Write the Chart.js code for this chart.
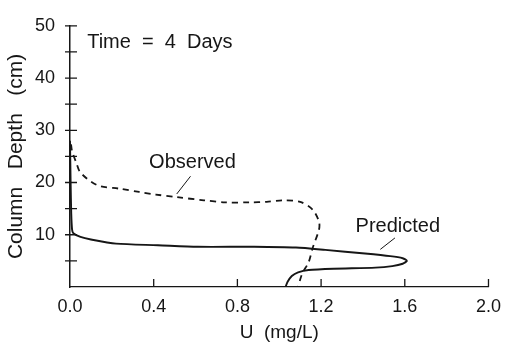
<!DOCTYPE html>
<html>
<head>
<meta charset="utf-8">
<script src="https://cdn.jsdelivr.net/npm/chart.js@4"></script>
<style>
  html, body { margin: 0; padding: 0; background: #fff; }
  #wrap { width: 510px; height: 344px; }
</style>
</head>
<body>
<div id="wrap"><canvas id="profile"></canvas></div>
<script>
// Observed profile (dashed) - U in mg/L vs column depth in cm
const observedU     = [0.005, 0.01, 0.03, 0.05, 0.13, 0.24, 0.33, 0.41, 0.51, 0.64, 0.74, 0.86, 0.94, 1.02, 1.10, 1.16, 1.19, 1.19, 1.16, 1.14, 1.11, 1.09];
const observedDepth = [27.3, 26.0, 23.8, 21.9, 19.5, 18.8, 18.2, 17.7, 17.2, 16.6, 16.2, 16.2, 16.3, 16.6, 16.3, 14.8, 12.5, 11.0, 7.5, 4.7, 2.6, 0.0];

// Predicted profile (solid)
const predictedU     = [0.0, 0.003, 0.006, 0.01, 0.016, 0.05, 0.10, 0.22, 0.42, 0.61, 0.88, 1.08, 1.22, 1.41, 1.53, 1.59, 1.61, 1.59, 1.54, 1.46, 1.26, 1.14, 1.09, 1.06, 1.04, 1.03];
const predictedDepth = [28.0, 20.0, 14.0, 11.0, 10.3, 9.6, 9.1, 8.3, 8.0, 7.7, 7.7, 7.55, 7.1, 6.4, 5.9, 5.5, 5.0, 4.45, 4.0, 3.7, 3.5, 3.25, 2.8, 2.1, 1.0, 0.0];

// axis ticks
const xTickValues = [0.4, 0.8, 1.2, 1.6, 2.0];
const yTickValues = [5, 10, 15, 20, 25, 30, 35, 40, 45, 50];

// text notes, anchored in data units
const notes = [
  { text: 'Time  =  4  Days', u: 0.082, d: 46.8 },
  { text: 'Observed', u: 0.378, d: 23.8 },
  { text: 'Predicted', u: 1.365, d: 11.6 }
];
const leaders = [
  { u1: 0.576, d1: 21.2, u2: 0.51, d2: 17.8 },
  { u1: 1.553, d1: 9.4, u2: 1.483, d2: 7.2 }
];

const toPoints = (us, ds) => us.map((u, i) => ({ x: u, y: ds[i] }));

const FONT = "'Liberation Sans', Arial, Helvetica, sans-serif";
const INK = '#161616';

// draws the inward ticks, leader lines and the notes
const decorations = {
  id: 'decorations',
  afterDraw(chart) {
    const c = chart.ctx;
    const xs = chart.scales.x;
    const ys = chart.scales.y;
    const x0 = xs.getPixelForValue(0);
    const y0 = ys.getPixelForValue(0);
    c.save();
    c.strokeStyle = INK;
    c.lineWidth = 1.3;
    c.beginPath();
    yTickValues.forEach(v => {
      const py = ys.getPixelForValue(v);
      c.moveTo(x0 - 5, py);
      c.lineTo(x0 + 7, py);
    });
    xTickValues.forEach(v => {
      const px = xs.getPixelForValue(v);
      c.moveTo(px, y0);
      c.lineTo(px, y0 - 8);
    });
    c.stroke();

    c.lineWidth = 1;
    c.beginPath();
    leaders.forEach(l => {
      c.moveTo(xs.getPixelForValue(l.u1), ys.getPixelForValue(l.d1));
      c.lineTo(xs.getPixelForValue(l.u2), ys.getPixelForValue(l.d2));
    });
    c.stroke();

    c.fillStyle = INK;
    c.font = '20px ' + FONT;
    c.textAlign = 'left';
    c.textBaseline = 'middle';
    notes.forEach(n => {
      c.fillText(n.text, xs.getPixelForValue(n.u), ys.getPixelForValue(n.d));
    });
    c.restore();
  }
};

const ctx = document.getElementById('profile').getContext('2d');
const chart = new Chart(ctx, {
  type: 'scatter',
  data: {
    datasets: [{
      label: 'Observed',
      data: toPoints(observedU, observedDepth),
      showLine: true,
      borderColor: INK,
      borderWidth: 1.8,
      borderDash: [6, 5],
      pointRadius: 0,
      tension: 0.3
    }, {
      label: 'Predicted',
      data: toPoints(predictedU, predictedDepth),
      showLine: true,
      borderColor: INK,
      borderWidth: 1.9,
      pointRadius: 0,
      tension: 0.25
    }]
  },
  options: {
    responsive: true,
    maintainAspectRatio: false,
    animation: false,
    layout: { padding: { top: 20, right: 15, left: 0, bottom: 0 } },
    plugins: {
      legend: { display: false },
      tooltip: { enabled: false }
    },
    scales: {
      x: {
        type: 'linear',
        min: 0,
        max: 2.0,
        afterFit: s => { s.height = 57; },
        grid: { display: false, drawTicks: false },
        border: { display: true, color: INK, width: 1.3 },
        ticks: {
          stepSize: 0.4,
          padding: 9,
          color: INK,
          font: { family: FONT, size: 18 },
          callback: v => v.toFixed(1)
        },
        title: {
          display: true,
          text: 'U  (mg/L)',
          color: INK,
          font: { family: FONT, size: 19 },
          padding: { top: 0, bottom: 0 }
        }
      },
      y: {
        type: 'linear',
        min: 0,
        max: 50,
        afterFit: s => { s.width = 70; },
        grid: { display: false, drawTicks: false },
        border: { display: true, color: INK, width: 1.5 },
        ticks: {
          stepSize: 10,
          padding: 15,
          color: INK,
          font: { family: FONT, size: 18 },
          callback: v => (v === 0 ? '' : v)
        },
        title: {
          display: true,
          text: 'Column   Depth   (cm)',
          color: INK,
          font: { family: FONT, size: 21 },
          padding: { top: 4, bottom: 0 }
        }
      }
    }
  },
  plugins: [decorations]
});
</script>
</body>
</html>
